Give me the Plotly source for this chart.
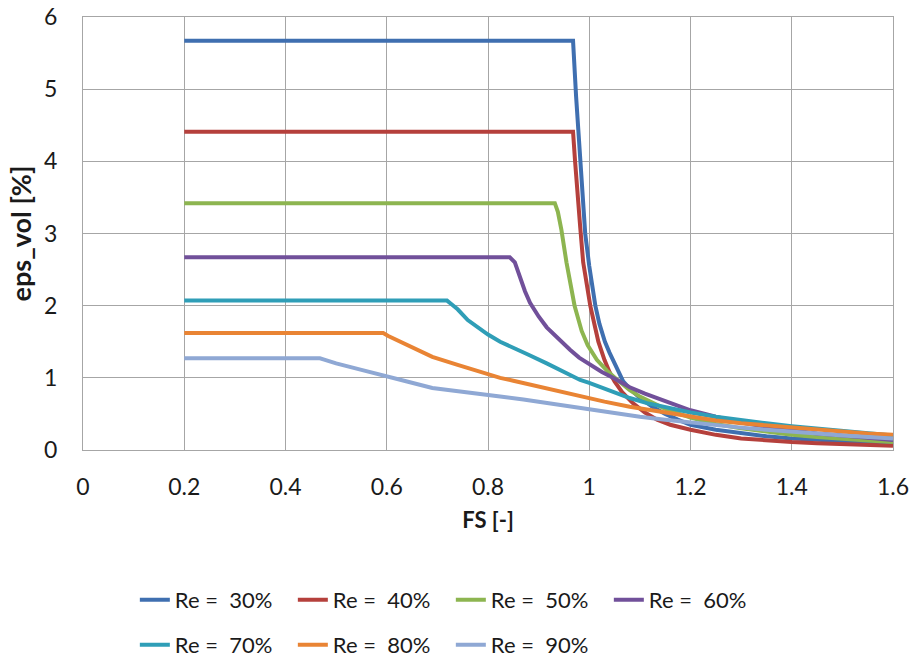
import plotly.graph_objects as go

# ---- data ----
names = ["Re =\u00a0 30%", "Re =\u00a0 40%", "Re =\u00a0 50%", "Re =\u00a0 60%",
         "Re =\u00a0 70%", "Re =\u00a0 80%", "Re =\u00a0 90%"]
colors = ["#3F6FB0", "#B5403C", "#8DB550", "#71509A", "#2F9EB7", "#E98434", "#8FA8D4"]

re30_x = [0.2, 0.968, 0.974, 0.980, 0.986, 0.992, 1.0, 1.012, 1.02, 1.031, 1.04, 1.05, 1.067,
          1.08, 1.1, 1.125, 1.15, 1.175, 1.2, 1.25, 1.3, 1.35, 1.4, 1.45, 1.5, 1.55, 1.6]
re30_y = [5.67, 5.67, 4.9, 4.2, 3.5, 3.0, 2.55, 2.0, 1.75, 1.5, 1.35, 1.2, 0.95,
          0.85, 0.72, 0.6, 0.5, 0.42, 0.35, 0.28, 0.23, 0.19, 0.16, 0.14, 0.12, 0.105, 0.09]

re40_x = [0.2, 0.968, 0.972, 0.976, 0.982, 0.988, 0.996, 1.002, 1.01, 1.018, 1.03, 1.04, 1.05,
          1.065, 1.086, 1.11, 1.134, 1.16, 1.2, 1.25, 1.3, 1.35, 1.4, 1.45, 1.5, 1.55, 1.6]
re40_y = [4.41, 4.41, 4.0, 3.6, 3.1, 2.6, 2.2, 2.0, 1.75, 1.5, 1.25, 1.08, 0.95,
          0.8, 0.65, 0.52, 0.42, 0.35, 0.28, 0.21, 0.16, 0.13, 0.11, 0.095, 0.08, 0.07, 0.06]

re50_x = [0.2, 0.932, 0.938, 0.945, 0.955, 0.963, 0.971, 0.985, 0.997, 1.015, 1.035, 1.054,
          1.08, 1.1, 1.15, 1.2, 1.25, 1.3, 1.35, 1.4, 1.45, 1.5, 1.55, 1.6]
re50_y = [3.42, 3.42, 3.3, 3.05, 2.6, 2.3, 2.0, 1.65, 1.45, 1.25, 1.1, 0.98,
          0.83, 0.74, 0.57, 0.45, 0.36, 0.3, 0.25, 0.21, 0.18, 0.15, 0.13, 0.11]

re60_x = [0.2, 0.843, 0.853, 0.863, 0.873, 0.883, 0.9, 0.916, 0.94, 0.962, 0.98, 1.0, 1.025,
          1.047, 1.065, 1.08, 1.11, 1.146, 1.17, 1.2, 1.25, 1.3, 1.35, 1.4, 1.45, 1.5, 1.55, 1.6]
re60_y = [2.67, 2.67, 2.6, 2.38, 2.2, 2.04, 1.85, 1.7, 1.53, 1.39, 1.28, 1.19, 1.08,
          1.0, 0.93, 0.87, 0.78, 0.69, 0.62, 0.55, 0.46, 0.38, 0.32, 0.27, 0.23, 0.2, 0.17, 0.14]

re70_x = [0.2, 0.719, 0.728, 0.74, 0.76, 0.784, 0.8, 0.824, 0.85, 0.88, 0.916, 0.95, 0.982,
          1.0, 1.047, 1.08, 1.114, 1.15, 1.2, 1.25, 1.3, 1.35, 1.4, 1.45, 1.5, 1.55, 1.6]
re70_y = [2.07, 2.07, 2.02, 1.95, 1.8, 1.68, 1.6, 1.5, 1.42, 1.32, 1.2, 1.08, 0.97,
          0.93, 0.8, 0.72, 0.65, 0.59, 0.52, 0.46, 0.41, 0.37, 0.33, 0.3, 0.26, 0.23, 0.2]

re80_x = [0.2, 0.593, 0.603, 0.65, 0.69, 0.74, 0.79, 0.824, 0.85, 0.9, 0.98, 1.03, 1.08,
          1.14, 1.2, 1.25, 1.3, 1.35, 1.4, 1.45, 1.5, 1.55, 1.6]
re80_y = [1.62, 1.62, 1.58, 1.42, 1.29, 1.18, 1.07, 1.0, 0.96, 0.88, 0.74, 0.67, 0.6,
          0.53, 0.46, 0.41, 0.37, 0.34, 0.31, 0.28, 0.25, 0.23, 0.21]

re90_x = [0.2, 0.468, 0.478, 0.5, 0.55, 0.593, 0.64, 0.69, 0.75, 0.784, 0.824, 0.87, 0.916,
          0.98, 1.047, 1.1, 1.15, 1.2, 1.25, 1.3, 1.35, 1.4, 1.45, 1.5, 1.55, 1.6]
re90_y = [1.27, 1.27, 1.25, 1.2, 1.11, 1.04, 0.95, 0.86, 0.8, 0.77, 0.74, 0.7, 0.65,
          0.58, 0.51, 0.46, 0.42, 0.38, 0.34, 0.31, 0.28, 0.26, 0.23, 0.2, 0.18, 0.16]

xs = [re30_x, re40_x, re50_x, re60_x, re70_x, re80_x, re90_x]
ys = [re30_y, re40_y, re50_y, re60_y, re70_y, re80_y, re90_y]

x_ticks = [0, 0.2, 0.4, 0.6, 0.8, 1.0, 1.2, 1.4, 1.6]
x_tick_labels = ["0", "0.2", "0.4", "0.6", "0.8", "1", "1.2", "1.4", "1.6"]
y_ticks = [0, 1, 2, 3, 4, 5, 6]

FONT = "Lato, 'Open Sans', sans-serif"
TXT = "#1a1a1a"

fig = go.Figure()
for i, (n, c, x, y) in enumerate(zip(names, colors, xs, ys)):
    fig.add_trace(go.Scatter(x=x, y=y, name=n, mode="lines",
                             legend="legend" if i < 4 else "legend2",
                             line=dict(color=c, width=4, shape="linear")))

grid = "#A6A6A6"
leg_common = dict(orientation="h", xanchor="left", x=0.064,
                  entrywidth=113, entrywidthmode="pixels",
                  font=dict(family=FONT, size=22, color=TXT),
                  yref="container", bgcolor="rgba(0,0,0,0)")
fig.update_layout(
    width=911, height=657,
    margin=dict(l=83, r=18, t=17, b=207, autoexpand=False),
    paper_bgcolor="white", plot_bgcolor="white",
    font=dict(family=FONT, size=23, color=TXT),
    showlegend=True,
    legend=dict(y=1 - 600 / 657, yanchor="middle", **leg_common),
    legend2=dict(y=1 - 645 / 657, yanchor="middle", **leg_common),
    xaxis=dict(range=[0, 1.6], tickvals=x_ticks, ticktext=x_tick_labels,
               showgrid=True, gridcolor=grid, gridwidth=1,
               showline=True, linecolor=grid, linewidth=1, mirror=True,
               zeroline=False, ticks="", ticklabelstandoff=16, automargin=False,
               tickfont=dict(family=FONT, size=23, color=TXT),
               title=dict(text="<b>FS [-]</b>", standoff=14,
                          font=dict(family=FONT, size=22, color=TXT))),
    yaxis=dict(range=[0, 6], tickvals=y_ticks,
               showgrid=True, gridcolor=grid, gridwidth=1,
               showline=True, linecolor=grid, linewidth=1, mirror=True,
               zeroline=False, ticks="", ticklabelstandoff=20, automargin=False,
               tickfont=dict(family=FONT, size=23, color=TXT),
               title=dict(text="<b>eps_vol [%]</b>", standoff=4,
                          font=dict(family=FONT, size=27, color=TXT))),
)

fig.write_html("out.html", config={"displayModeBar": False},
               post_script="document.body.style.margin='0px';")
